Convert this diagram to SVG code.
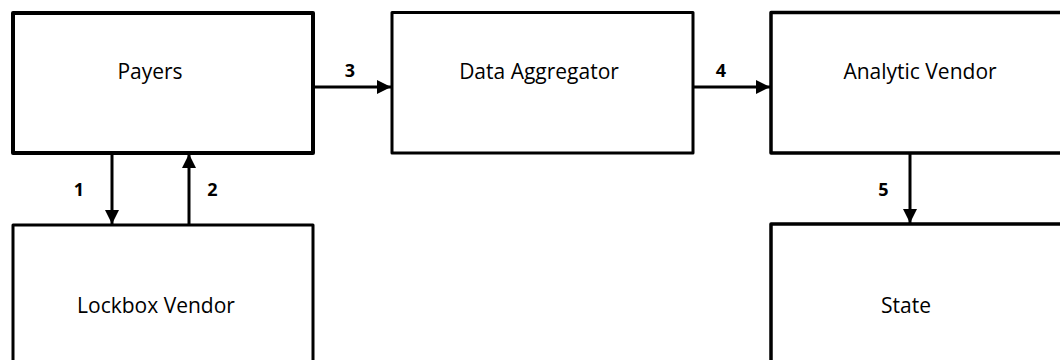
<svg xmlns="http://www.w3.org/2000/svg" width="1060" height="360" viewBox="0 0 1060 360">
<style>
.box{fill:#fff;stroke:#000;stroke-width:3;stroke-linejoin:round}
.lbl{font-family:"Open Sans","Liberation Sans",sans-serif;font-size:21px;fill:#000;text-anchor:middle}
.num{font-family:"Open Sans","Liberation Sans",sans-serif;font-size:18px;font-weight:bold;fill:#000;text-anchor:middle}
.conn{stroke:#000;stroke-width:3;fill:none}
</style>
<defs>
<marker id="ah" markerUnits="userSpaceOnUse" markerWidth="15" markerHeight="15" refX="14" refY="7.5" orient="auto">
<path d="M0,0.5 L14,7.5 L0,14.5 z" fill="#000"/>
</marker>
</defs>
<rect width="1060" height="360" fill="#fff"/>
<g id="payers"><rect class="box" x="13" y="13" width="300" height="140" style="stroke-width:4"/><text class="lbl" x="150" y="79">Payers</text></g>
<g id="aggregator"><rect class="box" x="392" y="12.5" width="301" height="140.5"/><text class="lbl" x="539" y="79">Data Aggregator</text></g>
<g id="analytic"><rect class="box" x="771" y="12.5" width="300" height="140.5" style="stroke-width:3.5"/><text class="lbl" x="920" y="79">Analytic Vendor</text></g>
<g id="lockbox"><rect class="box" x="13" y="225" width="300" height="150"/><text class="lbl" x="156" y="313">Lockbox Vendor</text></g>
<g id="state"><rect class="box" x="771" y="224" width="300" height="150" style="stroke-width:3.5"/><text class="lbl" x="906" y="313">State</text></g>
<g id="connectors">
<line class="conn" x1="112" y1="154" x2="112" y2="224" marker-end="url(#ah)"/>
<line class="conn" x1="189" y1="224" x2="189" y2="154" marker-end="url(#ah)"/>
<line class="conn" x1="314" y1="87" x2="391" y2="87" marker-end="url(#ah)"/>
<line class="conn" x1="694" y1="87" x2="770" y2="87" marker-end="url(#ah)"/>
<line class="conn" x1="910" y1="154" x2="910" y2="223" marker-end="url(#ah)"/>
<text class="num" x="79" y="196">1</text>
<text class="num" x="212.5" y="196">2</text>
<text class="num" x="350" y="77">3</text>
<text class="num" x="721" y="77">4</text>
<text class="num" x="883.5" y="196">5</text>
</g>
</svg>
